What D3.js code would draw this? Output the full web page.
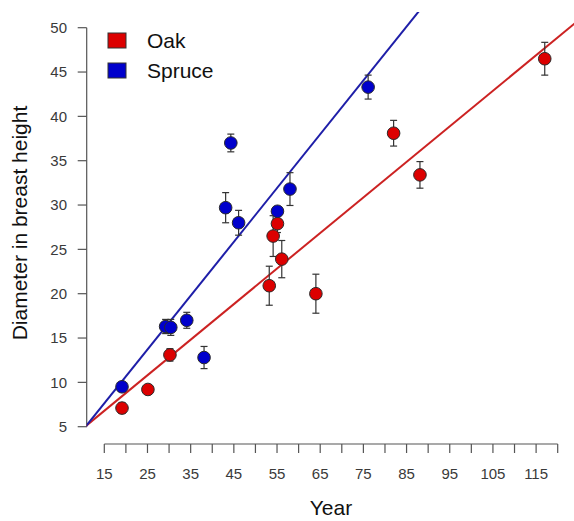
<!doctype html>
<html lang="en">
<head>
  <meta charset="utf-8">
  <title>Diameter in breast height by year</title>
  <script src="https://cdn.jsdelivr.net/npm/d3@7"></script>
  <style type="text/css">
    body {
      margin: 0;
      background-color: #ffffff;
      font-family: "Liberation Sans", Arial, sans-serif;
    }
    .tick_label {
      fill: #3a3a3a;
      font-size: 15px;
    }
    .axis_title {
      fill: #111111;
      font-size: 21px;
    }
    .legend_label {
      fill: #111111;
      font-size: 21px;
    }
    .errbar {
      stroke: #333333;
      stroke-width: 1.2px;
    }
  </style>
</head>
<body>
  <div id="container"></div>
<script type="text/javascript">

  // Species, colours and fitted lines
  var species = ["Oak", "Spruce"];
  var fills = ["#dc0000", "#0000cc"];
  var lineColors = ["#cc2222", "#1e1ea8"];
  var intercepts = [0.78, -1.47];
  var slopes = [0.401, 0.607];

  // Oak measurements (year, mean diameter, error)
  var oakYear = [19.1, 25.1, 30.2, 53.2, 54.1, 55.1, 56.1, 64.0, 82.0, 88.1, 117.0];
  var oakDbh  = [7.1, 9.2, 13.1, 20.9, 26.5, 27.9, 23.9, 20.0, 38.1, 33.4, 46.5];
  var oakErr  = [0.6, 0.4, 0.7, 2.2, 2.3, 1.0, 2.1, 2.2, 1.45, 1.5, 1.85];

  // Spruce measurements
  var spruceYear = [19.1, 29.2, 30.4, 34.1, 38.1, 43.1, 44.3, 46.1, 55.1, 58.0, 76.1];
  var spruceDbh  = [9.5, 16.3, 16.2, 17.0, 12.8, 29.7, 37.0, 28.0, 29.3, 31.8, 43.3];
  var spruceErr  = [0.5, 0.8, 0.9, 0.9, 1.25, 1.7, 1.0, 1.4, 0.5, 1.85, 1.35];

  // Axis ticks
  var xTicks = [15, 20, 25, 30, 35, 40, 45, 50, 55, 60, 65, 70, 75, 80, 85, 90, 95, 100, 105, 110, 115, 120];
  var xLabels = [15, 25, 35, 45, 55, 65, 75, 85, 95, 105, 115];
  var yTicks = [5, 10, 15, 20, 25, 30, 35, 40, 45, 50];

  var width = 574, height = 521;

  var svg = d3.select("#container")
              .append("svg")
              .attr("width", width)
              .attr("height", height);

  var xScale = d3.scaleLinear()
    .domain([15, 120])
    .range([104.3, 557.7]);
  var yScale = d3.scaleLinear()
    .domain([5, 50])
    .range([426.7, 27.7]);

  var yAxisX = 86.7, xAxisY = 444;

  // Build point records from the arrays
  var points = [];
  oakYear.forEach(function(d, i) {
    points.push({ s: 0, x: d, y: oakDbh[i], e: oakErr[i] });
  });
  spruceYear.forEach(function(d, i) {
    points.push({ s: 1, x: d, y: spruceDbh[i], e: spruceErr[i] });
  });

  // Clip for the regression lines
  svg.append("clipPath")
    .attr("id", "plotclip")
    .append("rect")
    .attr("x", yAxisX)
    .attr("y", 12)
    .attr("width", width - yAxisX)
    .attr("height", xAxisY - 12);

  // Y axis (R style: line spans first to last tick)
  var yAxis = svg.append("g");
  yAxis.append("line")
    .attr("x1", yAxisX).attr("x2", yAxisX)
    .attr("y1", yScale(5)).attr("y2", yScale(50))
    .attr("stroke", "#555").attr("stroke-width", 1.2);
  yAxis.selectAll(".ytick")
    .data(yTicks)
    .enter()
    .append("line")
    .attr("x1", yAxisX - 9).attr("x2", yAxisX)
    .attr("y1", function(d) { return yScale(d); })
    .attr("y2", function(d) { return yScale(d); })
    .attr("stroke", "#555").attr("stroke-width", 1.2);
  yAxis.selectAll(".ylab")
    .data(yTicks)
    .enter()
    .append("text")
    .attr("class", "tick_label")
    .attr("x", 67)
    .attr("y", function(d) { return yScale(d); })
    .attr("dy", "0.35em")
    .attr("text-anchor", "end")
    .text(function(d) { return d; });

  // X axis
  var xAxis = svg.append("g");
  xAxis.append("line")
    .attr("x1", xScale(15)).attr("x2", xScale(120))
    .attr("y1", xAxisY).attr("y2", xAxisY)
    .attr("stroke", "#555").attr("stroke-width", 1.2);
  xAxis.selectAll(".xtick")
    .data(xTicks)
    .enter()
    .append("line")
    .attr("x1", function(d) { return xScale(d); })
    .attr("x2", function(d) { return xScale(d); })
    .attr("y1", xAxisY).attr("y2", xAxisY + 9)
    .attr("stroke", "#555").attr("stroke-width", 1.2);
  xAxis.selectAll(".xlab")
    .data(xLabels)
    .enter()
    .append("text")
    .attr("class", "tick_label")
    .attr("x", function(d) { return xScale(d); })
    .attr("y", 479)
    .attr("text-anchor", "middle")
    .text(function(d) { return d; });

  // Axis titles
  svg.append("text")
    .attr("class", "axis_title")
    .attr("x", (xScale(15) + xScale(120)) / 2)
    .attr("y", 515)
    .attr("text-anchor", "middle")
    .text("Year");
  svg.append("text")
    .attr("class", "axis_title")
    .attr("transform", "translate(27,223) rotate(-90)")
    .attr("text-anchor", "middle")
    .text("Diameter in breast height");

  // Regression lines
  svg.append("g")
    .attr("clip-path", "url(#plotclip)")
    .selectAll("line")
    .data(species)
    .enter()
    .append("line")
    .attr("x1", xScale(0))
    .attr("y1", function(d, i) { return yScale(intercepts[i]); })
    .attr("x2", xScale(140))
    .attr("y2", function(d, i) { return yScale(intercepts[i] + slopes[i] * 140); })
    .attr("stroke", function(d, i) { return lineColors[i]; })
    .attr("stroke-width", 2);

  // Error bars
  var bars = svg.append("g");
  points.forEach(function(p) {
    var cx = xScale(p.x);
    bars.append("line").attr("class", "errbar")
      .attr("x1", cx).attr("x2", cx)
      .attr("y1", yScale(p.y - p.e)).attr("y2", yScale(p.y + p.e));
    [p.y - p.e, p.y + p.e].forEach(function(v) {
      bars.append("line").attr("class", "errbar")
        .attr("x1", cx - 3.5).attr("x2", cx + 3.5)
        .attr("y1", yScale(v)).attr("y2", yScale(v));
    });
  });

  // Points
  svg.selectAll(".pt")
    .data(points)
    .enter()
    .append("circle")
    .attr("cx", function(d) { return xScale(d.x); })
    .attr("cy", function(d) { return yScale(d.y); })
    .attr("r", 6.3)
    .attr("fill", function(d) { return fills[d.s]; })
    .attr("stroke", "#2a2a2a")
    .attr("stroke-width", 1);

  // Legend
  var legend = svg.selectAll(".legend")
    .data(species)
    .enter()
    .append("g")
    .attr("transform", function(d, i) { return "translate(108," + (33 + i * 30) + ")"; });
  legend.append("rect")
    .attr("width", 18)
    .attr("height", 15)
    .attr("fill", function(d, i) { return fills[i]; })
    .attr("stroke", "#333")
    .attr("stroke-width", 1);
  legend.append("text")
    .attr("class", "legend_label")
    .attr("x", 39)
    .attr("y", 8)
    .attr("dy", "0.35em")
    .text(function(d) { return d; });

</script>
</body>
</html>
